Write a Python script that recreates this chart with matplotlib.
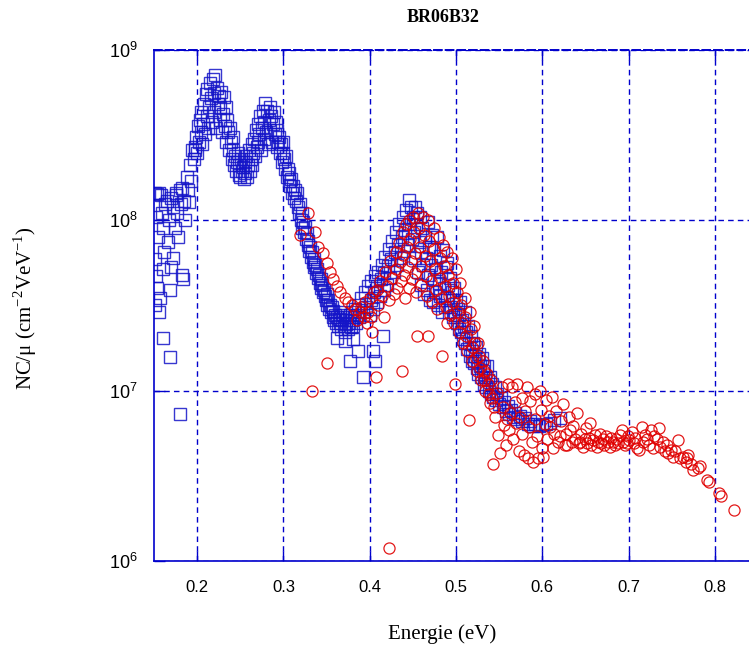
import numpy as np
import matplotlib
matplotlib.use('Agg')
import matplotlib.pyplot as plt
from matplotlib.ticker import FixedLocator, FixedFormatter, NullLocator

plt.rcParams['mathtext.fontset'] = 'custom'
plt.rcParams['mathtext.rm'] = 'Liberation Serif'
plt.rcParams['mathtext.sf'] = 'Liberation Sans'

# ---- data (energy in eV, NC/mu) ----
# blue squares
blue_left = [(0.151, 1.45e8), (0.153, 1.42e8), (0.156, 1.45e8), (0.158, 1.4e8), (0.152, 1.05e8),
             (0.155, 8e7), (0.151, 5.9e7), (0.152, 4.7e7), (0.154, 4e7), (0.151, 3.2e7),
             (0.157, 3.5e7), (0.156, 2.9e7), (0.160, 2.05e7), (0.168, 1.58e7), (0.180, 7.3e6),
             (0.159, 1.1e8), (0.161, 9e7), (0.162, 6.5e7), (0.160, 5.2e7), (0.163, 1.25e8),
             (0.165, 1.3e8), (0.167, 1.0e8), (0.166, 7.5e7), (0.168, 3.9e7), (0.170, 5.3e7),
             (0.172, 6e7), (0.170, 1.35e8), (0.172, 1.2e8), (0.174, 9e7), (0.175, 1.45e8),
             (0.177, 1.1e8), (0.178, 8e7), (0.176, 1.4e8), (0.180, 1.5e8), (0.181, 1.25e8),
             (0.182, 4.8e7), (0.184, 4.5e7), (0.183, 1.55e8), (0.185, 1.3e8), (0.186, 1.0e8),
             (0.188, 1.8e8), (0.189, 1.5e8), (0.190, 1.28e8), (0.192, 2.1e8), (0.193, 1.7e8),
             (0.194, 2.6e8), (0.196, 2.3e8), (0.197, 2.6e8)]
blue_peak1 = [(0.198, 2.7e8), (0.199, 3.1e8), (0.200, 2.5e8), (0.201, 3.6e8), (0.202, 2.9e8),
              (0.203, 3.9e8), (0.204, 3.3e8), (0.205, 4.3e8), (0.206, 2.8e8), (0.207, 3.7e8),
              (0.208, 4.8e8), (0.209, 3.2e8), (0.210, 5.5e8), (0.211, 4.1e8), (0.212, 5.9e8),
              (0.213, 3.5e8), (0.214, 4.6e8), (0.215, 6.4e8), (0.216, 5.2e8), (0.217, 3.8e8),
              (0.218, 6.8e8), (0.219, 5.6e8), (0.220, 4.3e8), (0.221, 7.1e8), (0.222, 3.5e8),
              (0.223, 6.0e8), (0.224, 4.8e8), (0.225, 5.4e8), (0.226, 3.9e8), (0.227, 4.6e8),
              (0.228, 5.7e8), (0.229, 3.3e8), (0.230, 4.2e8), (0.231, 5.3e8), (0.232, 3.6e8),
              (0.233, 4.6e8), (0.234, 2.9e8), (0.235, 3.9e8), (0.236, 3.3e8), (0.237, 2.6e8),
              (0.238, 3.5e8), (0.239, 2.9e8), (0.240, 2.3e8), (0.241, 3.1e8), (0.242, 2.6e8)]
blue_dip = [(0.243, 2.1e8), (0.244, 2.4e8), (0.245, 1.95e8), (0.246, 2.2e8), (0.247, 2.5e8),
            (0.248, 1.85e8), (0.249, 2.1e8), (0.250, 1.8e8), (0.251, 2.3e8), (0.252, 1.95e8),
            (0.253, 2.05e8), (0.254, 1.75e8), (0.255, 2.2e8), (0.256, 1.9e8), (0.257, 2.4e8),
            (0.258, 1.8e8), (0.259, 2.1e8), (0.260, 2.6e8), (0.261, 1.95e8), (0.262, 2.3e8),
            (0.263, 2.8e8), (0.264, 2.1e8), (0.265, 2.5e8), (0.266, 3.0e8)]
blue_peak2 = [(0.267, 2.4e8), (0.268, 3.4e8), (0.269, 2.7e8), (0.270, 3.7e8), (0.271, 2.9e8),
              (0.272, 3.2e8), (0.273, 4.1e8), (0.274, 2.6e8), (0.275, 3.5e8), (0.276, 4.4e8),
              (0.277, 3.0e8), (0.278, 3.8e8), (0.279, 4.9e8), (0.280, 3.3e8), (0.281, 4.4e8),
              (0.282, 2.8e8), (0.283, 3.9e8), (0.284, 4.6e8), (0.285, 3.4e8), (0.286, 4.1e8),
              (0.287, 2.9e8), (0.288, 3.7e8), (0.289, 4.3e8), (0.290, 3.2e8), (0.291, 3.8e8),
              (0.292, 2.7e8), (0.293, 3.4e8), (0.294, 2.9e8), (0.295, 3.1e8), (0.296, 2.5e8),
              (0.297, 2.8e8), (0.298, 2.2e8), (0.299, 2.5e8), (0.300, 2.9e8)]
blue_fall = [(0.301, 2.3e8), (0.302, 2.0e8), (0.303, 2.4e8), (0.304, 1.8e8), (0.305, 2.0e8),
             (0.306, 1.7e8), (0.307, 1.9e8), (0.308, 1.6e8), (0.309, 1.75e8), (0.310, 1.45e8),
             (0.311, 1.6e8), (0.312, 1.35e8), (0.313, 1.5e8), (0.315, 1.3e8), (0.316, 1.45e8),
             (0.317, 1.2e8), (0.318, 1.1e8), (0.319, 1.25e8), (0.320, 1.0e8), (0.321, 1.1e8),
             (0.322, 9.0e7), (0.323, 9.8e7), (0.324, 8.5e7), (0.325, 9.2e7), (0.326, 7.8e7),
             (0.327, 8.4e7), (0.328, 7.2e7), (0.329, 7.6e7), (0.330, 6.6e7), (0.331, 7.0e7),
             (0.332, 6.1e7), (0.333, 6.5e7), (0.334, 5.7e7), (0.335, 5.9e7), (0.336, 5.3e7),
             (0.337, 5.5e7), (0.338, 4.9e7), (0.339, 5.2e7), (0.340, 4.6e7), (0.341, 4.8e7),
             (0.342, 4.3e7), (0.343, 4.5e7), (0.344, 4.0e7), (0.345, 4.2e7), (0.346, 3.8e7),
             (0.347, 3.9e7), (0.348, 3.6e7), (0.349, 3.4e7), (0.350, 3.7e7), (0.351, 3.2e7),
             (0.352, 3.4e7), (0.353, 3.0e7), (0.354, 3.2e7), (0.355, 2.9e7), (0.356, 3.1e7),
             (0.357, 2.7e7), (0.358, 2.95e7), (0.359, 2.6e7), (0.360, 2.8e7), (0.361, 2.5e7),
             (0.362, 2.7e7), (0.363, 2.4e7), (0.364, 2.65e7), (0.365, 2.9e7), (0.366, 2.5e7),
             (0.367, 2.3e7), (0.368, 2.6e7), (0.369, 2.8e7), (0.370, 2.4e7), (0.371, 2.2e7),
             (0.372, 2.6e7), (0.373, 2.45e7), (0.374, 2.7e7), (0.375, 2.3e7), (0.376, 2.5e7),
             (0.377, 2.8e7), (0.378, 2.35e7), (0.379, 2.6e7), (0.380, 2.9e7), (0.381, 2.4e7),
             (0.382, 2.7e7), (0.383, 3.0e7), (0.384, 2.5e7), (0.385, 2.8e7)]
blue_outliers = [(0.362, 2.05e7), (0.371, 1.95e7), (0.381, 2.0e7), (0.386, 1.7e7), (0.377, 1.5e7),
                 (0.392, 1.2e7), (0.404, 1.7e7), (0.406, 1.5e7), (0.415, 2.1e7)]
blue_rise = [(0.386, 3.2e7), (0.388, 2.7e7), (0.390, 3.5e7), (0.392, 2.9e7), (0.394, 3.8e7),
             (0.396, 3.1e7), (0.398, 4.1e7), (0.400, 2.8e7), (0.401, 3.4e7), (0.402, 4.4e7),
             (0.404, 3.0e7), (0.405, 3.8e7), (0.406, 4.7e7), (0.408, 3.3e7), (0.409, 4.1e7),
             (0.410, 5.0e7), (0.412, 3.6e7), (0.413, 4.5e7), (0.414, 5.5e7), (0.416, 3.9e7),
             (0.417, 4.9e7), (0.418, 6.1e7), (0.420, 4.2e7), (0.421, 5.4e7), (0.422, 6.8e7),
             (0.424, 4.6e7), (0.425, 5.9e7), (0.426, 7.6e7), (0.428, 5.0e7), (0.429, 6.5e7),
             (0.430, 8.5e7), (0.432, 5.5e7), (0.433, 7.2e7), (0.434, 9.5e7), (0.436, 6.0e7),
             (0.437, 8.0e7), (0.438, 1.05e8), (0.440, 6.6e7), (0.441, 8.8e7), (0.442, 1.15e8),
             (0.444, 7.2e7), (0.445, 1.32e8), (0.446, 9.5e7), (0.448, 1.2e8), (0.449, 7.8e7),
             (0.450, 1.05e8)]
blue_tail = [(0.451, 8.5e7), (0.452, 1.2e8), (0.453, 6.0e7), (0.454, 9.5e7), (0.455, 1.1e8),
             (0.456, 5.0e7), (0.457, 7.5e7), (0.458, 1.05e8), (0.459, 4.2e7), (0.460, 6.5e7),
             (0.461, 9.0e7), (0.462, 5.5e7), (0.463, 3.7e7), (0.464, 8.0e7), (0.465, 6.0e7),
             (0.466, 3.9e7), (0.467, 9.8e7), (0.468, 4.8e7), (0.469, 7.0e7), (0.470, 3.4e7),
             (0.471, 5.5e7), (0.472, 8.2e7), (0.473, 3.3e7), (0.474, 4.5e7), (0.475, 6.8e7),
             (0.476, 3.8e7), (0.477, 5.2e7), (0.478, 8.0e7), (0.479, 3.2e7), (0.480, 4.3e7),
             (0.481, 6.2e7), (0.482, 3.6e7), (0.483, 5.0e7), (0.484, 2.9e7), (0.485, 6.7e7),
             (0.486, 4.0e7), (0.487, 3.1e7), (0.488, 5.3e7), (0.489, 3.5e7), (0.490, 5.6e7),
             (0.491, 4.2e7), (0.492, 2.9e7), (0.493, 4.6e7), (0.494, 3.1e7), (0.495, 3.8e7),
             (0.496, 2.7e7), (0.497, 3.4e7), (0.498, 4.0e7), (0.499, 2.8e7), (0.500, 3.4e7),
             (0.501, 2.5e7), (0.502, 3.0e7), (0.503, 2.3e7), (0.504, 2.8e7), (0.505, 3.3e7),
             (0.506, 2.2e7), (0.507, 2.6e7), (0.508, 2.0e7), (0.509, 2.4e7), (0.510, 2.9e7),
             (0.511, 1.9e7), (0.512, 2.2e7), (0.513, 1.75e7), (0.514, 2.4e7), (0.515, 1.9e7),
             (0.516, 1.6e7), (0.517, 2.1e7), (0.518, 1.7e7), (0.519, 1.5e7), (0.520, 1.9e7),
             (0.521, 1.45e7), (0.522, 1.6e7), (0.523, 1.8e7), (0.524, 1.35e7), (0.525, 1.5e7),
             (0.526, 1.25e7), (0.527, 1.65e7), (0.528, 1.4e7), (0.529, 1.2e7), (0.530, 1.55e7),
             (0.531, 1.3e7), (0.532, 1.1e7), (0.533, 1.4e7), (0.534, 1.2e7), (0.535, 1.05e7),
             (0.536, 1.4e7), (0.537, 1.15e7), (0.538, 1.0e7), (0.539, 1.2e7), (0.540, 9.5e6),
             (0.542, 1.1e7), (0.543, 9.2e6), (0.545, 1.05e7), (0.546, 8.8e6), (0.548, 9.6e6),
             (0.550, 8.3e6), (0.552, 9.0e6), (0.554, 8.0e6), (0.556, 8.6e6), (0.558, 7.6e6),
             (0.560, 8.1e6), (0.562, 7.3e6), (0.564, 7.7e6), (0.566, 7.0e6), (0.568, 7.4e6),
             (0.571, 6.8e6), (0.574, 7.1e6), (0.577, 6.6e6), (0.580, 6.9e6), (0.583, 6.4e6),
             (0.586, 6.6e6), (0.589, 6.2e6), (0.592, 6.4e6), (0.596, 6.2e6), (0.600, 6.3e6),
             (0.604, 6.4e6), (0.609, 6.5e6), (0.614, 6.7e6), (0.620, 6.9e6)]

# red circles
red_fall = [(0.319, 8.2e7), (0.328, 1.1e8), (0.337, 8.5e7), (0.340, 7.0e7), (0.346, 6.4e7),
            (0.350, 5.6e7), (0.354, 5.0e7), (0.358, 4.5e7), (0.362, 4.1e7), (0.366, 3.8e7),
            (0.371, 3.5e7), (0.375, 3.3e7), (0.379, 3.2e7), (0.383, 3.0e7), (0.389, 2.9e7),
            (0.393, 2.7e7), (0.397, 2.5e7), (0.403, 2.2e7)]
red_outliers = [(0.333, 1.0e7), (0.350, 1.45e7), (0.407, 1.2e7), (0.437, 1.3e7), (0.422, 1.2e6)]
red_peak = [(0.385, 2.6e7), (0.390, 3.1e7), (0.395, 3.3e7), (0.398, 2.9e7), (0.400, 3.5e7),
            (0.402, 2.7e7), (0.405, 3.8e7), (0.408, 3.9e7), (0.410, 3.2e7), (0.412, 4.4e7),
            (0.414, 3.6e7), (0.416, 2.7e7), (0.418, 5.0e7), (0.420, 4.1e7), (0.422, 3.4e7),
            (0.424, 5.8e7), (0.426, 4.6e7), (0.428, 3.7e7), (0.430, 6.5e7), (0.431, 5.2e7),
            (0.432, 4.0e7), (0.434, 7.4e7), (0.435, 5.7e7), (0.436, 4.4e7), (0.438, 8.5e7),
            (0.439, 6.3e7), (0.440, 4.8e7), (0.441, 3.5e7), (0.442, 9.5e7), (0.443, 7.0e7),
            (0.444, 5.3e7), (0.445, 4.0e7), (0.446, 1.0e8), (0.447, 7.8e7), (0.448, 5.8e7),
            (0.449, 4.5e7), (0.450, 1.05e8), (0.451, 8.5e7), (0.452, 6.4e7), (0.453, 4.9e7),
            (0.454, 3.8e7), (0.455, 2.1e7), (0.456, 1.1e8), (0.457, 9.0e7), (0.458, 7.0e7),
            (0.459, 5.4e7), (0.460, 4.2e7), (0.462, 1.05e8), (0.463, 8.2e7), (0.464, 6.2e7),
            (0.465, 4.7e7), (0.466, 3.6e7), (0.467, 2.1e7), (0.468, 1.0e8), (0.469, 7.6e7),
            (0.470, 5.8e7), (0.471, 4.4e7), (0.472, 3.3e7), (0.474, 9.0e7), (0.475, 6.8e7),
            (0.476, 5.2e7), (0.477, 3.9e7), (0.478, 3.0e7), (0.480, 8.0e7), (0.481, 6.0e7),
            (0.482, 4.6e7), (0.483, 3.5e7), (0.484, 1.6e7), (0.485, 7.2e7), (0.486, 5.4e7),
            (0.487, 4.1e7), (0.488, 3.1e7), (0.489, 2.5e7), (0.490, 6.5e7), (0.491, 4.8e7),
            (0.492, 3.6e7), (0.493, 2.8e7), (0.495, 6.0e7), (0.496, 4.3e7), (0.497, 3.3e7),
            (0.498, 2.5e7), (0.499, 1.1e7), (0.500, 5.2e7), (0.501, 3.8e7), (0.502, 2.9e7),
            (0.503, 2.2e7), (0.505, 4.3e7), (0.506, 3.2e7), (0.507, 2.5e7), (0.508, 1.9e7),
            (0.510, 3.5e7), (0.511, 2.7e7), (0.512, 2.1e7), (0.513, 1.7e7), (0.515, 6.7e6),
            (0.516, 2.9e7), (0.517, 2.3e7), (0.518, 1.8e7), (0.519, 1.5e7), (0.521, 2.4e7),
            (0.522, 1.9e7), (0.523, 1.55e7), (0.524, 1.3e7), (0.526, 1.9e7), (0.527, 1.6e7),
            (0.528, 1.35e7), (0.529, 1.15e7), (0.531, 1.5e7), (0.532, 1.3e7), (0.533, 1.15e7),
            (0.534, 1.0e7), (0.536, 1.25e7), (0.537, 1.1e7), (0.538, 9.5e6), (0.539, 8.5e6),
            (0.541, 1.15e7), (0.542, 9.0e6), (0.543, 3.7e6), (0.544, 8.0e6), (0.545, 7.0e6)]
red_tail = [(0.547, 9.7e6), (0.549, 5.5e6), (0.551, 4.3e6), (0.553, 1.05e7), (0.554, 8.0e6),
            (0.556, 6.3e6), (0.558, 4.8e6), (0.559, 6.8e6), (0.560, 1.1e7), (0.561, 5.9e6),
            (0.563, 7.4e6), (0.565, 1.05e7), (0.566, 5.2e6), (0.568, 8.6e6), (0.570, 6.5e6),
            (0.571, 1.1e7), (0.573, 4.4e6), (0.574, 7.0e6), (0.576, 9.0e6), (0.577, 5.6e6),
            (0.579, 4.2e6), (0.580, 7.6e6), (0.582, 1.05e7), (0.583, 4.0e6), (0.585, 6.1e6),
            (0.586, 8.7e6), (0.588, 5.0e6), (0.589, 3.8e6), (0.591, 6.8e6), (0.592, 9.5e6),
            (0.594, 5.4e6), (0.595, 4.0e6), (0.597, 1.0e7), (0.598, 7.7e6), (0.600, 4.6e6),
            (0.601, 4.1e6), (0.603, 6.4e6), (0.604, 8.8e6), (0.606, 5.2e6), (0.608, 7.1e6),
            (0.609, 6.1e6), (0.611, 9.2e6), (0.612, 4.6e6), (0.614, 5.6e6), (0.616, 7.6e6),
            (0.618, 5.0e6), (0.620, 5.4e6), (0.622, 6.6e6), (0.624, 8.3e6), (0.626, 4.8e6),
            (0.628, 5.6e6), (0.629, 4.8e6), (0.631, 7.0e6), (0.632, 5.9e6), (0.634, 5.0e6),
            (0.636, 6.2e6), (0.638, 5.2e6), (0.640, 7.4e6), (0.642, 4.9e6), (0.644, 5.0e6),
            (0.645, 5.6e6), (0.647, 4.7e6), (0.649, 5.2e6), (0.651, 6.0e6), (0.652, 4.9e6),
            (0.654, 5.3e6), (0.655, 6.5e6), (0.657, 4.8e6), (0.659, 5.1e6), (0.661, 5.5e6),
            (0.663, 4.7e6), (0.665, 5.0e6), (0.667, 5.6e6), (0.668, 4.9e6), (0.670, 5.2e6),
            (0.672, 4.8e6), (0.674, 5.4e6), (0.676, 5.0e6), (0.678, 4.7e6), (0.680, 5.3e6),
            (0.682, 5.0e6), (0.684, 4.8e6), (0.686, 5.2e6), (0.688, 4.9e6), (0.690, 5.5e6),
            (0.692, 5.9e6), (0.694, 5.0e6), (0.696, 4.8e6), (0.698, 4.9e6), (0.699, 5.4e6),
            (0.701, 5.1e6), (0.704, 5.7e6), (0.706, 4.9e6), (0.708, 5.3e6), (0.710, 4.6e6),
            (0.712, 4.5e6), (0.715, 6.1e6), (0.717, 5.0e6), (0.719, 5.5e6), (0.721, 5.2e6),
            (0.724, 4.8e6), (0.726, 5.9e6), (0.728, 4.6e6), (0.730, 5.4e6), (0.733, 5.2e6),
            (0.735, 6.0e6), (0.737, 4.7e6), (0.740, 5.0e6), (0.742, 4.4e6), (0.744, 4.8e6),
            (0.746, 4.3e6), (0.749, 4.5e6), (0.751, 4.1e6), (0.754, 4.4e6), (0.757, 5.1e6),
            (0.760, 4.0e6), (0.763, 4.1e6), (0.766, 3.8e6), (0.768, 4.0e6), (0.769, 4.2e6),
            (0.772, 3.7e6), (0.775, 3.4e6), (0.780, 3.5e6), (0.783, 3.6e6), (0.791, 3.0e6),
            (0.793, 2.9e6), (0.805, 2.5e6), (0.807, 2.4e6), (0.822, 2.0e6)]

x_ticks = [0.2, 0.3, 0.4, 0.5, 0.6, 0.7, 0.8]
x_labels = ['0.2', '0.3', '0.4', '0.5', '0.6', '0.7', '0.8']
y_ticks = [1e6, 1e7, 1e8, 1e9]
y_labels = [r'$\mathsf{10^{6}}$', r'$\mathsf{10^{7}}$', r'$\mathsf{10^{8}}$', r'$\mathsf{10^{9}}$']

blue = np.array(blue_left + blue_peak1 + blue_dip + blue_peak2 + blue_fall
                + blue_outliers + blue_rise + blue_tail)
red = np.array(red_fall + red_outliers + red_peak + red_tail)

axis_blue = '#0000cc'

fig = plt.figure(figsize=(7.49, 6.48), dpi=100)
# axes runs slightly past the right edge like the original
ax = fig.add_axes([154 / 749, 87 / 648, 604 / 749, 511 / 648])

ax.plot(blue[:, 0], blue[:, 1], linestyle='none', marker='s', markersize=8,
        markerfacecolor='none', markeredgecolor='#1414c8', markeredgewidth=1.0, alpha=0.85)
ax.plot(red[:, 0], red[:, 1], linestyle='none', marker='o', markersize=8,
        markerfacecolor='none', markeredgecolor='#e00000', markeredgewidth=0.9, alpha=0.9)

ax.set_yscale('log')
ax.set_xlim(0.15, 0.85)
ax.set_ylim(1e6, 1e9)

ax.xaxis.set_major_locator(FixedLocator(x_ticks))
ax.xaxis.set_major_formatter(FixedFormatter(x_labels))
ax.yaxis.set_major_locator(FixedLocator(y_ticks))
ax.yaxis.set_major_formatter(FixedFormatter(y_labels))
ax.xaxis.set_minor_locator(NullLocator())
ax.yaxis.set_minor_locator(NullLocator())

ax.set_axisbelow(True)
ax.grid(True, color=axis_blue, linestyle=(0, (4, 3)), linewidth=1.0)

for side in ['left', 'bottom']:
    ax.spines[side].set_color(axis_blue)
    ax.spines[side].set_linewidth(1.2)
ax.spines['top'].set_color(axis_blue)
ax.spines['top'].set_linestyle((0, (4, 2)))
ax.spines['top'].set_linewidth(1.4)
ax.spines['right'].set_visible(False)

ax.tick_params(axis='x', direction='in', length=7, width=1, color=axis_blue,
               top=True, pad=14, labelsize=12, labelcolor='black')
ax.tick_params(axis='y', direction='in', length=8, width=1, color=axis_blue,
               pad=12, labelsize=13, labelcolor='black')
for lab in ax.get_xticklabels():
    lab.set_fontfamily('Liberation Sans')

fig.text(443 / 749, 1 - 17 / 648, 'BR06B32', ha='center', va='center',
         family='Liberation Serif', fontweight='bold', fontsize=13)
fig.text(442 / 749, 1 - 634 / 648, 'Energie (eV)', ha='center', va='center',
         family='Liberation Serif', fontsize=15)
fig.text(25 / 749, 1 - 308 / 648, r'NC/μ (cm$^{-2}$VeV$^{-1}$)', ha='center', va='center',
         rotation=90, family='Liberation Serif', fontsize=15)

fig.savefig('out.png', dpi=100)
